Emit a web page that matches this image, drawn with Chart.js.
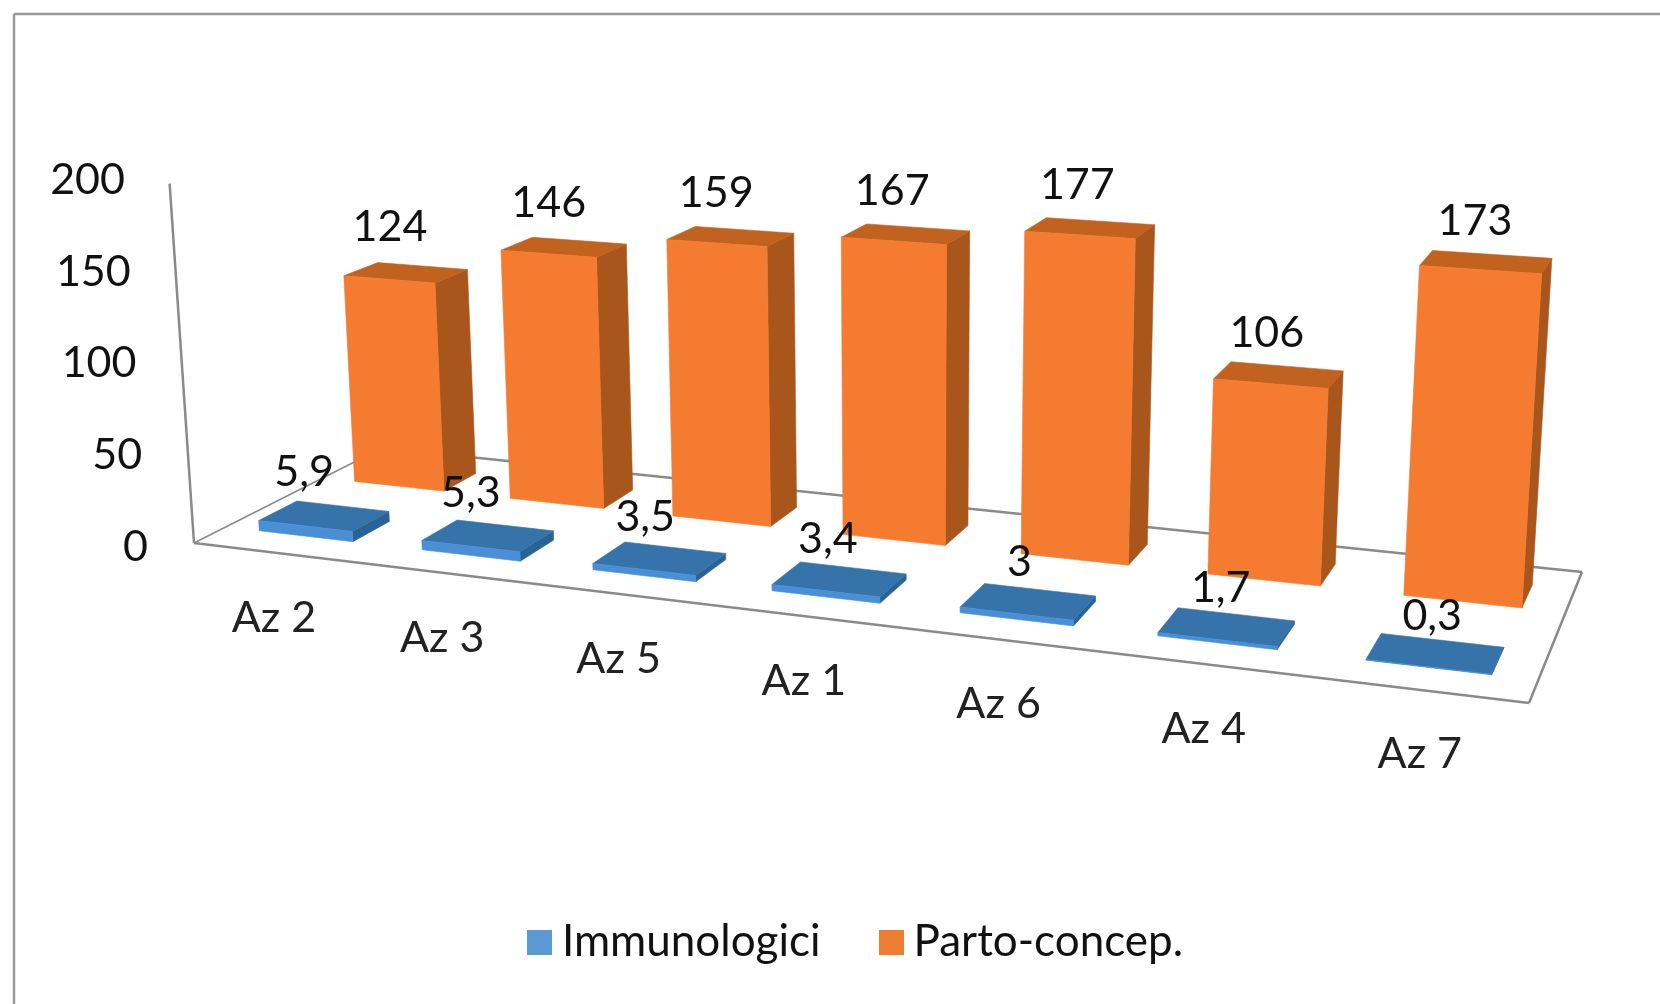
<!DOCTYPE html>
<html><head><meta charset="utf-8">
<style>html,body{margin:0;padding:0;background:#fff}#w{width:1660px;height:1004px}canvas{filter:blur(0.6px)}</style>
<script src="https://cdn.jsdelivr.net/npm/chart.js@4/dist/chart.umd.min.js"></script>
</head><body><div id="w"><canvas id="c"></canvas></div>
<script>
const categories = ['Az 2','Az 3','Az 5','Az 1','Az 6','Az 4','Az 7'];
const immunologici = [5.9,5.3,3.5,3.4,3,1.7,0.3];
const partoConcep = [124,146,159,167,177,106,173];
const seriesNames = ['Immunologici','Parto-concep.'];

// floor quadrilateral of the 3D plot (front-left, front-right, back-right, back-left)
const Q=[[194,543],[1529,703],[1582,572],[382,448]];
const VP=[906,11040], HEIGHT_T=-0.0331;
const DEPTH=[[0.155,0.35],[0.66,0.85]];
const FACES=[{front:'#4a8fd6',top:'#3573aa',side:'#2b6294'},{front:'#f47b30',top:'#c2621f',side:'#a9561c'}];
const LEGEND=['#5b9bd5','#ed7d31'];
const FONT='Lato, Carlito, sans-serif';

const [[x0,y0],[x1,y1],[x2,y2],[x3,y3]]=Q;
const dx1=x1-x2,dy1=y1-y2,dx2=x3-x2,dy2=y3-y2,sx=x0-x1+x2-x3,sy=y0-y1+y2-y3;
const den=dx1*dy2-dx2*dy1, G=(sx*dy2-dx2*sy)/den, H=(dx1*sy-sx*dy1)/den;
const A=x1-x0+G*x1,B=x3-x0+H*x3,D=y1-y0+G*y1,E=y3-y0+H*y3;
function P(u,w,h){
  const t=HEIGHT_T*h, X=A*u+B*w+x0+t*VP[0], Y=D*u+E*w+y0+t*VP[1], Z=G*u+H*w+1+t;
  return [X/Z,Y/Z];
}
function poly(ctx,pts,c){
  ctx.beginPath();pts.forEach((p,i)=>i?ctx.lineTo(p[0],p[1]):ctx.moveTo(p[0],p[1]));ctx.closePath();
  ctx.fillStyle=c;ctx.strokeStyle=c;ctx.lineWidth=0.6;ctx.fill();ctx.stroke();
}
function line(ctx,a,b){ctx.beginPath();ctx.moveTo(a[0],a[1]);ctx.lineTo(b[0],b[1]);ctx.stroke();}
function swatch(c){const s=document.createElement('canvas');s.width=25;s.height=25;const g=s.getContext('2d');g.fillStyle=c;g.fillRect(0,0,25,25);return s;}

const plot3d={id:'plot3d',
 afterLayout(chart){
  // the legend sits lower than its own box padding allows
  const l=chart.legend,shift=912-(l.top+l.height/2);
  l.top+=shift;l.bottom+=shift;
 },
 beforeDatasetsDraw(chart){
  const ctx=chart.ctx,xs=chart.scales.x,ys=chart.scales.y;
  const U=x=>(x-xs.left)/xs.width, Hh=y=>(ys.bottom-y)/ys.height;
  ctx.save();
  ctx.strokeStyle='#9a9a9a';ctx.lineWidth=2.5;
  line(ctx,[14,1004],[14,14]);line(ctx,[14,14],[1660,14]);
  ctx.strokeStyle='#8a8a8a';ctx.lineWidth=2.5;
  line(ctx,Q[0],Q[1]);line(ctx,Q[1],Q[2]);line(ctx,Q[2],Q[3]);
  ctx.lineWidth=1.5;line(ctx,Q[3],Q[0]);
  ctx.lineWidth=2.5;
  line(ctx,Q[0],P(0,0,1));
  [1,0].forEach(di=>{
    const meta=chart.getDatasetMeta(di),[w0,w1]=DEPTH[di],f=FACES[di];
    meta.data.forEach(el=>{
      const p=el.getProps(['x','y','base','width'],true);
      const a=U(p.x-p.width/2),b=U(p.x+p.width/2),h=Hh(p.y);
      poly(ctx,[P(b,w0,0),P(b,w1,0),P(b,w1,h),P(b,w0,h)],f.side);
      poly(ctx,[P(a,w0,h),P(b,w0,h),P(b,w1,h),P(a,w1,h)],f.top);
      poly(ctx,[P(a,w0,0),P(b,w0,0),P(b,w0,h),P(a,w0,h)],f.front);
    });
  });
  ctx.fillStyle='#111';ctx.textAlign='center';ctx.textBaseline='middle';
  ctx.font='43px '+FONT;
  [1,0].forEach(di=>{
    const meta=chart.getDatasetMeta(di),[w0,w1]=DEPTH[di],ds=chart.data.datasets[di];
    meta.data.forEach((el,i)=>{
      const p=el.getProps(['x','y'],true),u=U(p.x),q=P(u,(w0+w1)/2,Hh(p.y)),s=(u-0.07)/0.86;
      const dx=di? -16+5*s : -20+17*s;
      const dy=di? -45+4*s : -44+7*s;
      ctx.fillText(String(ds.data[i]).replace('.',','),q[0]+dx,q[1]+dy);
    });
  });
  ctx.fillStyle='#222';
  chart.data.labels.forEach((t,i)=>{
    const u=U(xs.getPixelForValue(i)),q=P(u,0,0);
    ctx.fillText(t,q[0]-1+4*(u-0.07)/0.86,q[1]+65);
  });
  ctx.textAlign='right';ctx.fillStyle='#111';
  ys.ticks.forEach(t=>{
    ctx.fillText(String(t.value),125+(200-t.value)*0.115,ys.getPixelForValue(t.value));
  });
  ctx.restore();
  return false;
 }
};

new Chart(document.getElementById('c'),{
 type:'bar',
 data:{labels:categories,datasets:[
  {label:seriesNames[0],data:immunologici,backgroundColor:LEGEND[0],grouped:false},
  {label:seriesNames[1],data:partoConcep,backgroundColor:LEGEND[1],grouped:false}
 ]},
 options:{
  responsive:true,maintainAspectRatio:false,animation:false,
  layout:{padding:{top:180,left:62,right:0,bottom:0}},
  datasets:{bar:{categoryPercentage:0.58,barPercentage:1}},
  scales:{
   x:{grid:{display:false},border:{display:false},ticks:{display:false},afterFit(s){s.height=333;}},
   y:{min:0,max:200,ticks:{display:false,stepSize:50},grid:{display:false},border:{display:false},afterFit(s){s.width=68;}}
  },
  plugins:{tooltip:{enabled:false},
   legend:{position:'bottom',labels:{
     font:{family:'Lato, sans-serif',size:44},color:'#111',
     usePointStyle:true,pointStyleWidth:1,padding:70,
     generateLabels:c=>c.data.datasets.map((d,i)=>({text:d.label,fontColor:'#111',fillStyle:LEGEND[i],strokeStyle:LEGEND[i],pointStyle:swatch(LEGEND[i]),datasetIndex:i,hidden:false,lineWidth:0}))
   }}
  }
 },
 plugins:[plot3d]
});
</script></body></html>
